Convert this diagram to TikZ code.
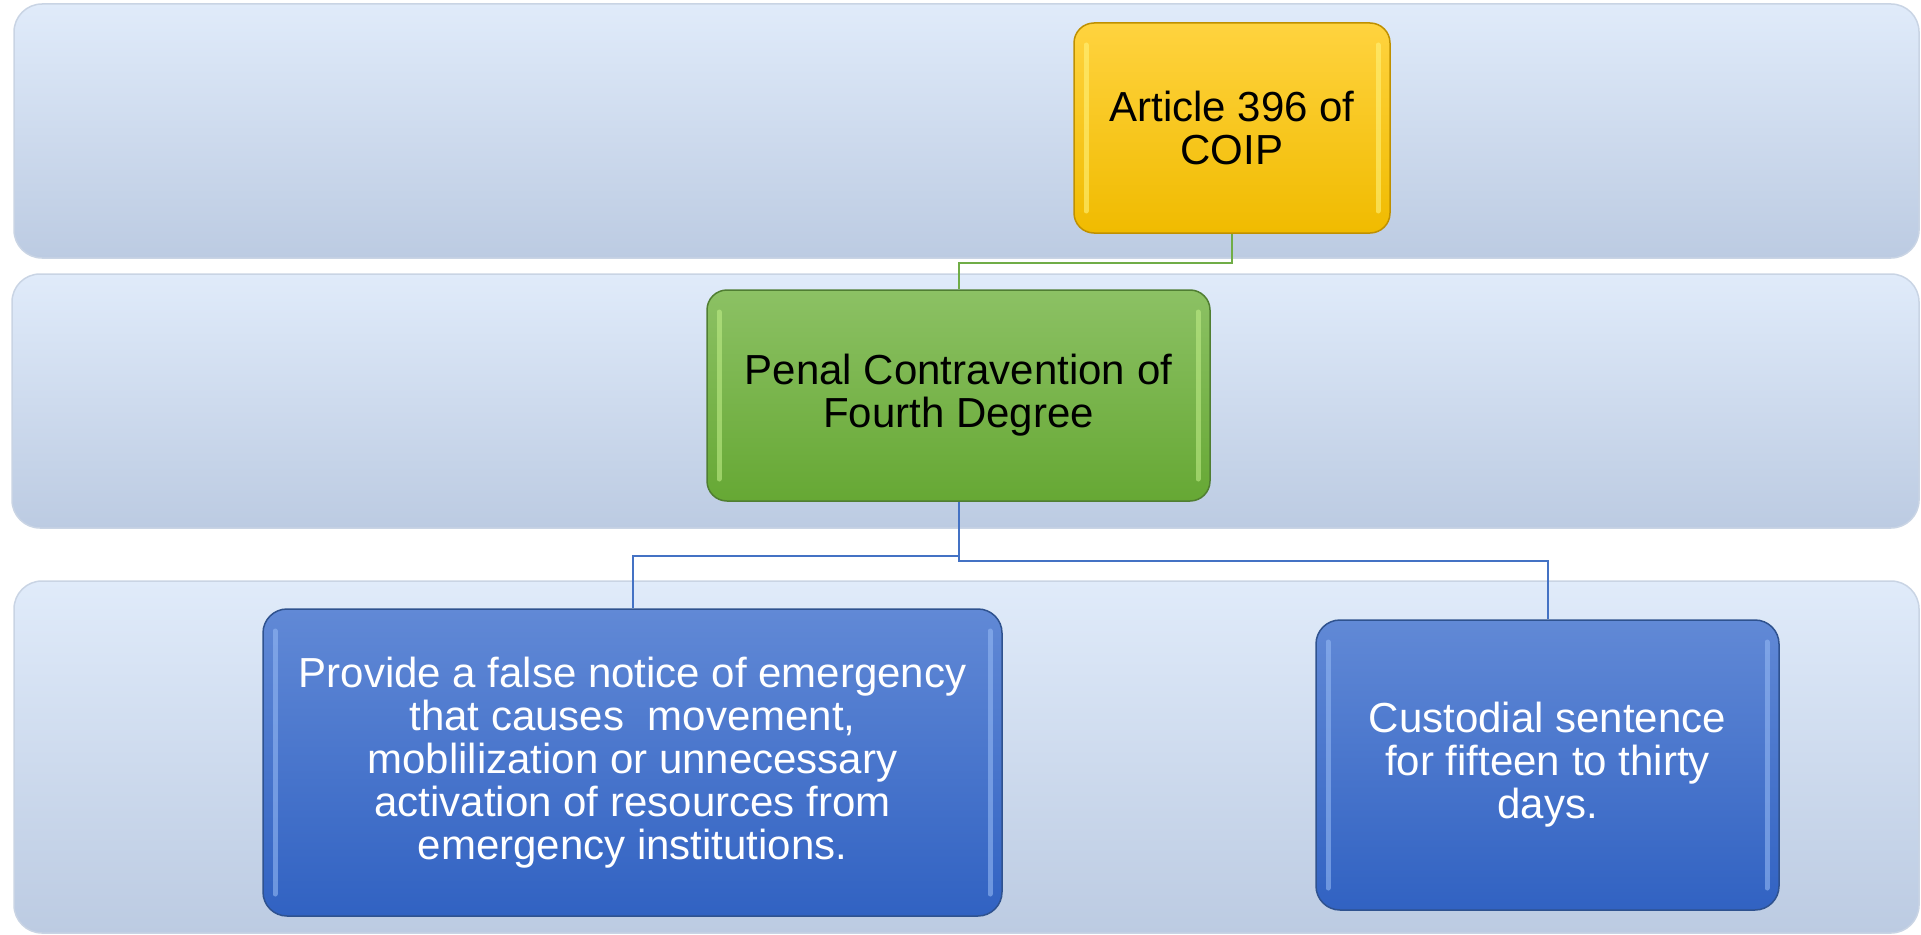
\documentclass[tikz,border=0pt]{standalone}
\usepackage{fontspec}
\setmainfont{Liberation Sans}
\usetikzlibrary{positioning}

\definecolor{bandtop}{HTML}{E0EBFA}
\definecolor{bandbot}{HTML}{BCCBE2}
\definecolor{bandline}{HTML}{C9D4E4}
\definecolor{yeltop}{HTML}{FFD33F}
\definecolor{yelbot}{HTML}{F0BB00}
\definecolor{yelline}{HTML}{BF9000}
\definecolor{yelhi}{HTML}{FFF27A}
\definecolor{grntop}{HTML}{8CC164}
\definecolor{grnbot}{HTML}{66A834}
\definecolor{grnline}{HTML}{507E32}
\definecolor{grnhi}{HTML}{BDEB85}
\definecolor{blutop}{HTML}{6189D6}
\definecolor{blubot}{HTML}{3162C2}
\definecolor{bluline}{HTML}{2F528F}
\definecolor{bluhi}{HTML}{93B7F2}
\definecolor{conngreen}{HTML}{70AD47}
\definecolor{connblue}{HTML}{4472C4}

\begin{document}
\begin{tikzpicture}[x=1pt, y=-1pt, on grid,
  band/.style={rounded corners=28pt, top color=bandtop, bottom color=bandbot, draw=bandline, line width=1.5pt},
  box/.style={rectangle, rounded corners=20pt, line width=1.5pt, align=center, inner sep=0pt,
    font=\fontsize{42}{43}\selectfont},
  bevel/.style={path picture={
    \draw[#1, line width=5pt, line cap=round, opacity=0.6]
      ([xshift=12pt,yshift=-22pt]path picture bounding box.north west) --
      ([xshift=12pt,yshift=22pt]path picture bounding box.south west);
    \draw[#1, line width=5pt, line cap=round, opacity=0.6]
      ([xshift=-12pt,yshift=-22pt]path picture bounding box.north east) --
      ([xshift=-12pt,yshift=22pt]path picture bounding box.south east);}},
  yellowbox/.style={box, draw=yelline, top color=yeltop, bottom color=yelbot, bevel=yelhi,
    minimum width=316pt, minimum height=210pt},
  greenbox/.style={box, draw=grnline, top color=grntop, bottom color=grnbot, bevel=grnhi,
    minimum width=503pt, minimum height=211pt},
  bluebox/.style={box, draw=bluline, top color=blutop, bottom color=blubot, bevel=bluhi,
    text=white, rounded corners=24pt},
  greenline/.style={draw=conngreen, line width=2pt},
  blueline/.style={draw=connblue, line width=2pt}]
  \useasboundingbox (0,0) rectangle (1921,934);

  % background bands
  \path[band] (14,4) rectangle (1919,258);
  \path[band] (12,274) rectangle (1919,528);
  \path[band] (14,581) rectangle (1919,933);

  \node[yellowbox] (n0) at (1232,128) {Article 396 of\\COIP};
  \node[greenbox] (n1) [below left=267.5pt and 273.5pt of n0] {Penal Contravention of\\Fourth Degree};
  \node[bluebox, minimum width=739pt, minimum height=307pt] (n2) [below left=367pt and 326pt of n1]
    {Provide a false notice of emergency\\that causes~ movement,\\moblilization or unnecessary\\activation of resources from\\emergency institutions.};
  \node[bluebox, minimum width=463pt, minimum height=290pt] (n3) [below right=369.5pt and 589pt of n1]
    {Custodial sentence\\for fifteen to thirty\\days.};

  \draw[greenline] (n0.south) -- ++(0,29) -| (n1.north);
  \draw[blueline] (n1.south) -- ++(0,54) -| (n2.north);
  \draw[blueline] (n1.south) -- ++(0,59) -| (n3.north);
\end{tikzpicture}
\end{document}
